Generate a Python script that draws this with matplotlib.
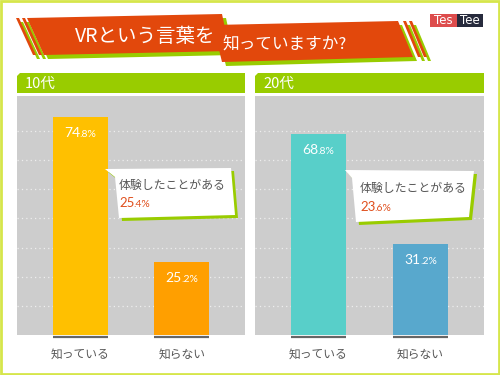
import matplotlib
matplotlib.use("Agg")
import matplotlib.pyplot as plt
from matplotlib.patches import Polygon, Rectangle

plt.rcParams['font.family'] = ['Noto Sans CJK JP', 'DejaVu Sans']

# data
title_1 = "VRという言葉を"
title_2 = "知っていますか?"
categories = ["知っている", "知らない"]
groups = ["10代", "20代"]
values_10s = [74.8, 25.2]
values_20s = [68.8, 31.2]
experienced = [25.4, 23.6]
callout_text = "体験したことがある"

colors_10s = ['#ffc000', '#ff9f00']
colors_20s = ['#58cfc9', '#58a8cd']
GREEN = '#99cc00'
ORANGE = '#e2480c'
GRAY = '#cdcdcd'

W, H = 500, 375
fig = plt.figure(figsize=(5, 3.75), dpi=100)
fig.patch.set_facecolor('white')


def px_axes(x0, y0, x1, y1):
    return fig.add_axes([x0 / W, 1 - y1 / H, (x1 - x0) / W, (y1 - y0) / H])


labels_to_fix = []


def mixed(ax, xy, big, small, bs, ss, color, off=(0, 0), center=True):
    t1 = ax.annotate(big, xy=xy, xytext=off, textcoords='offset pixels',
                     ha='left', va='baseline', fontsize=bs, color=color,
                     family=['Lato', 'DejaVu Sans'])
    t2 = ax.annotate(small, xy=xy, xytext=off, textcoords='offset pixels',
                     ha='left', va='baseline', fontsize=ss, color=color,
                     family=['Lato', 'DejaVu Sans'])
    labels_to_fix.append((t1, t2, off, center))


def split_val(v):
    s = f"{v:.1f}"
    a, b = s.split('.')
    return a, '.' + b + '%'


# panels
panels = [(17, 245, values_10s, colors_10s), (255, 484, values_20s, colors_20s)]
axes = []
for (x0, x1, vals, cols) in panels:
    ax = px_axes(x0, 96, x1, 335)
    ax.set_facecolor(GRAY)
    ax.bar(range(len(vals)), vals, width=0.54, color=cols, zorder=3)
    ax.set_xlim(-0.62, 1.62)
    ax.set_ylim(0, 82)
    ax.set_yticks(range(10, 80, 10))
    ax.grid(axis='y', color='#eeeeee', linestyle=(0, (1, 2.5)), lw=0.9)
    ax.set_axisbelow(True)
    for s in ax.spines.values():
        s.set_visible(False)
    ax.set_xticks(range(len(categories)))
    ax.set_xticklabels(categories, fontsize=8.5, color='#555555')
    ax.tick_params(axis='x', length=0, pad=9)
    ax.tick_params(axis='y', length=0, labelleft=False)
    for i, v in enumerate(vals):
        ax.plot([i - 0.27, i + 0.27], [-0.01, -0.01], transform=ax.get_xaxis_transform(),
                clip_on=False, color='#666666', lw=1.6, solid_capstyle='butt')
        a, b = split_val(v)
        mixed(ax, (i, v), a, b, 10, 7.5, 'white', off=(0, -20))
    axes.append(ax)

# overlay for decorations
ov = fig.add_axes([0, 0, 1, 1])
ov.set_xlim(0, W)
ov.set_ylim(H, 0)
ov.axis('off')
ov.patch.set_visible(False)

# border
ov.add_patch(Rectangle((1, 1), W - 2, H - 2, fill=False, ec='#d6e64b', lw=2))


def poly(pts, color, dx=0, dy=0, z=2):
    ov.add_patch(Polygon([(x + dx, y + dy) for x, y in pts], closed=True,
                         fc=color, ec='none', zorder=z))


# title banner
p1 = [(27, 18), (222, 14), (230, 51), (44, 55)]
p2 = [(213, 25), (398, 21), (413, 57), (222, 62)]
stripes1 = [[(16, 18), (19, 18), (36, 55), (33, 55)], [(22, 18), (25, 18), (42, 55), (39, 55)]]
stripes2 = [[(403, 21), (406, 21), (421, 57), (418, 57)], [(409, 21), (412, 21), (427, 57), (424, 57)]]
for shp in [p1] + stripes1:
    poly(shp, GREEN, 4, 4, z=1)
for shp in [p1] + stripes1:
    poly(shp, ORANGE, z=2)
for shp in [p2] + stripes2:
    poly(shp, GREEN, 4, 4, z=3)
for shp in [p2] + stripes2:
    poly(shp, ORANGE, z=4)
ov.text(145, 37, title_1, ha='center', va='center', color='white', fontsize=14,
        zorder=5)
ov.text(285, 44, title_2, ha='center', va='center', color='white', fontsize=12,
        zorder=5)

# logo
ov.add_patch(Rectangle((430, 14), 27, 13, fc='#dd4c4c', ec='none'))
ov.add_patch(Rectangle((457, 14), 26, 13, fc='#272b3d', ec='none'))
ov.text(443.5, 20.5, "Tes", ha='center', va='center', color='white', fontsize=8.5,
        family=['DejaVu Sans'])
ov.text(470, 20.5, "Tee", ha='center', va='center', color='white', fontsize=8.5,
        family=['DejaVu Sans'])

# headers
for (x0, x1, _, _), g in zip(panels, groups):
    poly([(x0, 76), (x0 + 3, 73), (x1, 73), (x1, 93), (x0, 93)], GREEN)
    ov.text(x0 + 8, 83.5, g, ha='left', va='center', color='white', fontsize=10.5)

# callouts
callouts = [
    ([(105, 169), (231, 168), (235, 215), (119, 218), (115, 177)], (119, 185), (119, 207)),
    ([(345, 170), (474, 171), (469, 217), (356, 222), (352, 178)], (360, 188), (360, 211)),
]
for (shape, tpos, npos), e in zip(callouts, experienced):
    poly(shape, GREEN, 3, 3, z=6)
    poly(shape, 'white', z=7)
    ov.text(tpos[0], tpos[1], callout_text, ha='left', va='center', color='#555555',
            fontsize=8.6, zorder=8)
    a, b = split_val(e)
    mixed(ov, npos, a, b, 9.5, 7.5, '#e0501e', center=False)

fig.canvas.draw()
for t1, t2, off, center in labels_to_fix:
    t1.set_zorder(9)
    t2.set_zorder(9)
    w1 = t1.get_window_extent().width - 0.5
    w2 = t2.get_window_extent().width
    x = off[0] - (w1 + w2) / 2 if center else off[0]
    t1.xyann = (x, off[1])
    t2.xyann = (x + w1, off[1])

fig.savefig('out.png', dpi=100)
